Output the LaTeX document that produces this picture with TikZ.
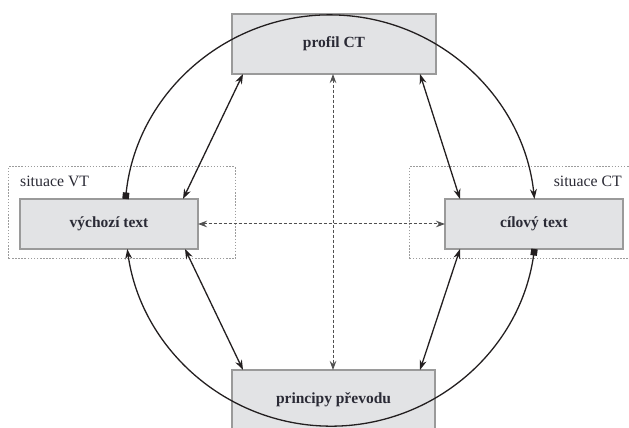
\documentclass[tikz,border=0pt]{standalone}
\usepackage{fontspec}
\setmainfont{Liberation Serif}
\usetikzlibrary{arrows.meta,calc}
\definecolor{boxfill}{HTML}{E2E3E5}
\definecolor{boxline}{HTML}{9A9A9A}
\definecolor{ink}{HTML}{231F20}
\definecolor{txt}{HTML}{2A2A35}
\definecolor{dotc}{HTML}{9C9C9C}
\definecolor{dashc}{HTML}{505050}
\tikzset{
  x=1pt,y=1pt,
  mainbox/.style={draw=boxline, fill=boxfill, line width=2.2pt, inner sep=0pt, outer sep=0pt,
    font=\fontsize{15.5}{18}\selectfont\bfseries, text=txt},
  sitbox/.style={draw=dotc, line width=1pt, dash pattern=on 1.5pt off 1.6pt},
  sitlabel/.style={inner sep=0pt, font=\fontsize{15.8}{18}\selectfont, text=txt},
  dbl/.style={draw=ink, line width=1.3pt, {Stealth[length=10pt,width=7pt]}-{Stealth[length=10pt,width=7pt]}},
  dsh/.style={draw=dashc, line width=1pt, dash pattern=on 3pt off 2pt,
    {Stealth[length=9pt,width=6.5pt]}-{Stealth[length=9pt,width=6.5pt]}},
  arcline/.style={draw=ink, line width=1.3pt, {Square[length=6.5pt,width=6.5pt]}-{Stealth[length=10pt,width=7pt]}},
}
\begin{document}
\begin{tikzpicture}
\useasboundingbox (0,0) rectangle (629,428);
\clip (0,0) rectangle (629,428);
% situation frames
\draw[sitbox] (8,169) rectangle (235,261);
\draw[sitbox] (409,169) rectangle (645,261);
\node[sitlabel, anchor=base west] (lvt) at (20,241) {situace VT};
\node[sitlabel, anchor=base east] (lct) at (622,241) {situace CT};
% boxes
\node[mainbox, minimum width=204pt, minimum height=60pt] (pr) at (334,384) {profil CT};
\node[mainbox, minimum width=203pt, minimum height=60pt] (pp) at (333.5,28) {principy převodu};
\node[mainbox, minimum width=178pt, minimum height=50pt] (vt) at (109,204) {výchozí text};
\node[mainbox, minimum width=178pt, minimum height=50pt] (ct) at (534,204) {cílový text};
% dashed axes
\draw[dsh] (vt.east) -- (ct.west);
\draw[dsh] ([xshift=-1pt]pr.south) -- ([xshift=-1pt]pr.south |- pp.north);
% straight double arrows
\draw[dbl] ([xshift=-15pt]vt.north east) -- ([xshift=11pt]pr.south west);
\draw[dbl] ([xshift=-13pt]vt.south east) -- ([xshift=11pt]pp.north west);
\draw[dbl] ([xshift=-16pt]pr.south east) -- ([xshift=15pt]ct.north west);
\draw[dbl] ([xshift=15pt]ct.south west) -- ([xshift=-15pt]pp.north east);
% circle arcs
\draw[arcline] ([xshift=105.5pt]vt.north west) arc[start angle=174, end angle=6, radius=205.6pt];
\draw[arcline] ([xshift=0.5pt]ct.south) arc[start angle=-7.95, end angle=-172.05, radius=205.6pt];
\end{tikzpicture}
\end{document}
